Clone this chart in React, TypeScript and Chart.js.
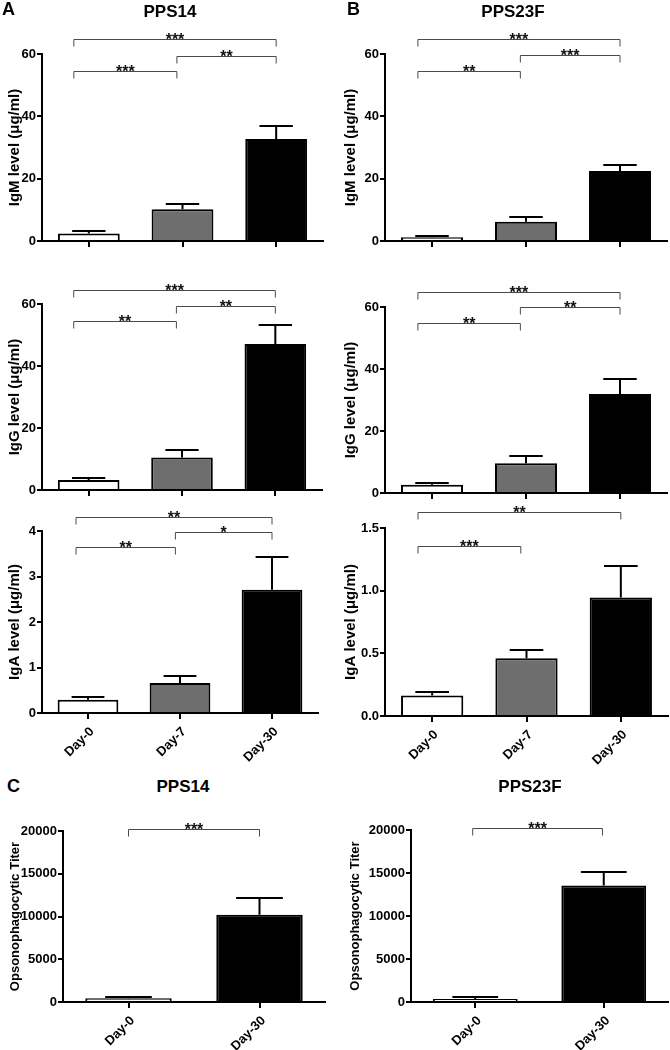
import React, { useEffect, useRef } from 'react';
import { Chart, registerables } from 'chart.js';

Chart.register(...registerables);

const FONT = "'Liberation Sans', Arial, Helvetica, sans-serif";

// categories
const DAYS3 = ['Day-0', 'Day-7', 'Day-30'];
const DAYS2 = ['Day-0', 'Day-30'];
const COLORS3 = ['#ffffff', '#6e6e6e', '#000000'];
const COLORS2 = ['#ffffff', '#000000'];

// A: PPS14 (mean, SEM)
const PPS14_IGM = [2.4, 10.2, 32.7];
const PPS14_IGM_SEM = [0.7, 1.8, 4.3];
const PPS14_IGG = [3.2, 10.5, 47.1];
const PPS14_IGG_SEM = [0.7, 2.4, 6.0];
const PPS14_IGA = [0.29, 0.66, 2.71];
const PPS14_IGA_SEM = [0.06, 0.16, 0.72];

// B: PPS23F
const PPS23F_IGM = [1.2, 6.2, 22.5];
const PPS23F_IGM_SEM = [0.5, 1.5, 2.0];
const PPS23F_IGG = [2.7, 9.6, 31.9];
const PPS23F_IGG_SEM = [0.5, 2.4, 4.8];
const PPS23F_IGA = [0.163, 0.46, 0.945];
const PPS23F_IGA_SEM = [0.027, 0.07, 0.255];

// C: opsonophagocytic titer
const OPA_PPS14 = [427, 10214];
const OPA_PPS14_SEM = [117, 1980];
const OPA_PPS23F = [350, 13553];
const OPA_PPS23F_SEM = [233, 1515];

// significance brackets: [from category, to category, y value, label]
const PPS14_IGM_SIG = [[-0.16, 2, 64.8, '***'], [0.94, 2, 59.4, '**'], [-0.16, 0.94, 54.6, '***']];
const PPS23F_IGM_SIG = [[-0.15, 2, 64.8, '***'], [0.94, 2, 59.7, '***'], [-0.15, 0.94, 54.5, '**']];
const PPS14_IGG_SIG = [[-0.16, 2, 64.5, '***'], [0.94, 2, 59.4, '**'], [-0.16, 0.94, 54.5, '**']];
const PPS23F_IGG_SIG = [[-0.15, 2, 64.8, '***'], [0.94, 2, 59.9, '**'], [-0.15, 0.94, 54.9, '**']];
const PPS14_IGA_SIG = [[-0.13, 2, 4.31, '**'], [0.95, 2, 3.985, '*'], [-0.13, 0.95, 3.64, '**']];
const PPS23F_IGA_SIG = [[-0.15, 2, 1.625, '**'], [-0.15, 0.94, 1.36, '***']];
const OPA_PPS14_SIG = [[0, 1, 20200, '***']];
const OPA_PPS23F_SIG = [[-0.02, 0.99, 20230, '***']];

// y axis ranges
const IG_MAX = 60;
const IG_STEP = 20;
const IGA14_MAX = 4;
const IGA14_STEP = 1;
const IGA23_MAX = 1.5;
const IGA23_STEP = 0.5;
const OPA_MAX = 20000;
const OPA_STEP = 5000;

type Sig = (number | string)[];

interface Spec {
  labels: string[];
  colors: string[];
  values: number[];
  sem: number[];
  sig: Sig[];
  max: number;
  step: number;
  decimals: number;
  yTitle: string;
  titleSize: number;
  showX: boolean;
  // layout
  left: number;
  yW: number;
  right: number;
  top: number;
  bottom: number;
  xH: number;
  padTop: number;
  titlePad: number;
}

const IGM_T = 'IgM level (\u03BCg/ml)';
const IGG_T = 'IgG level (\u03BCg/ml)';
const IGA_T = 'IgA level (\u03BCg/ml)';
const OPA_T = 'Opsonophagocytic Titer';

const SPECS: Spec[] = [
  { labels: DAYS3, colors: COLORS3, values: PPS14_IGM, sem: PPS14_IGM_SEM, sig: PPS14_IGM_SIG, max: IG_MAX, step: IG_STEP, decimals: 0, yTitle: IGM_T, titleSize: 15, showX: false,
    left: 0, yW: 42, right: 323, top: 54, bottom: 241, xH: 10, padTop: 36, titlePad: 6 },
  { labels: DAYS3, colors: COLORS3, values: PPS23F_IGM, sem: PPS23F_IGM_SEM, sig: PPS23F_IGM_SIG, max: IG_MAX, step: IG_STEP, decimals: 0, yTitle: IGM_T, titleSize: 15, showX: false,
    left: 335, yW: 50, right: 667, top: 54, bottom: 241, xH: 10, padTop: 36, titlePad: 7 },
  { labels: DAYS3, colors: COLORS3, values: PPS14_IGG, sem: PPS14_IGG_SEM, sig: PPS14_IGG_SIG, max: IG_MAX, step: IG_STEP, decimals: 0, yTitle: IGG_T, titleSize: 15, showX: false,
    left: 0, yW: 42, right: 322, top: 304, bottom: 490, xH: 10, padTop: 36, titlePad: 6 },
  { labels: DAYS3, colors: COLORS3, values: PPS23F_IGG, sem: PPS23F_IGG_SEM, sig: PPS23F_IGG_SIG, max: IG_MAX, step: IG_STEP, decimals: 0, yTitle: IGG_T, titleSize: 15, showX: false,
    left: 335, yW: 50, right: 667, top: 307, bottom: 493, xH: 10, padTop: 36, titlePad: 7 },
  { labels: DAYS3, colors: COLORS3, values: PPS14_IGA, sem: PPS14_IGA_SEM, sig: PPS14_IGA_SIG, max: IGA14_MAX, step: IGA14_STEP, decimals: 0, yTitle: IGA_T, titleSize: 15, showX: true,
    left: 0, yW: 42, right: 318, top: 531, bottom: 713, xH: 52, padTop: 30, titlePad: 6 },
  { labels: DAYS3, colors: COLORS3, values: PPS23F_IGA, sem: PPS23F_IGA_SEM, sig: PPS23F_IGA_SIG, max: IGA23_MAX, step: IGA23_STEP, decimals: 1, yTitle: IGA_T, titleSize: 15, showX: true,
    left: 335, yW: 50, right: 668, top: 528, bottom: 716, xH: 52, padTop: 30, titlePad: 7 },
  { labels: DAYS2, colors: COLORS2, values: OPA_PPS14, sem: OPA_PPS14_SEM, sig: OPA_PPS14_SIG, max: OPA_MAX, step: OPA_STEP, decimals: 0, yTitle: OPA_T, titleSize: 13, showX: true,
    left: 0, yW: 63, right: 325, top: 831, bottom: 1002, xH: 48, padTop: 22, titlePad: 8 },
  { labels: DAYS2, colors: COLORS2, values: OPA_PPS23F, sem: OPA_PPS23F_SEM, sig: OPA_PPS23F_SIG, max: OPA_MAX, step: OPA_STEP, decimals: 0, yTitle: OPA_T, titleSize: 13, showX: true,
    left: 335, yW: 76, right: 668, top: 830, bottom: 1002, xH: 48, padTop: 22, titlePad: 13 },
];

function BarPanel({ spec }: { spec: Spec }) {
  const ref = useRef<HTMLCanvasElement>(null);
  const canvasTop = spec.top - spec.padTop;
  const w = spec.right + 2 - spec.left;
  const h = spec.bottom + spec.xH - canvasTop;

  useEffect(() => {
    const s = spec;
    const overlay = {
      id: 'overlay',
      afterDatasetsDraw(chart: any) {
        const ctx = chart.ctx;
        const ys = chart.scales.y;
        const meta = chart.getDatasetMeta(0);
        ctx.save();
        ctx.strokeStyle = '#000';
        ctx.lineWidth = 2;
        meta.data.forEach((bar: any, i: number) => {
          const p = bar.getProps(['x', 'width'], true);
          const y0 = ys.getPixelForValue(s.values[i]);
          const y1 = Math.round(ys.getPixelForValue(s.values[i] + s.sem[i]));
          const half = p.width * 0.27;
          ctx.beginPath();
          ctx.moveTo(p.x, y0);
          ctx.lineTo(p.x, y1);
          ctx.moveTo(p.x - half, y1);
          ctx.lineTo(p.x + half, y1);
          ctx.stroke();
        });
        ctx.restore();
      },
      afterDraw(chart: any) {
        const ctx = chart.ctx;
        const xs = chart.scales.x;
        const ys = chart.scales.y;
        const a = xs.getPixelForValue(0);
        const b = xs.getPixelForValue(1);
        const px = (f: number) => a + f * (b - a);
        ctx.save();
        s.sig.forEach((g) => {
          const x1 = px(g[0] as number);
          const x2 = px(g[1] as number);
          const y = Math.round(ys.getPixelForValue(g[2] as number)) + 0.5;
          ctx.strokeStyle = '#4a4a4a';
          ctx.lineWidth = 1;
          ctx.beginPath();
          ctx.moveTo(x1, y + 7);
          ctx.lineTo(x1, y);
          ctx.lineTo(x2, y);
          ctx.lineTo(x2, y + 7);
          ctx.stroke();
          ctx.fillStyle = '#111';
          ctx.font = `bold 16px ${FONT}`;
          ctx.textAlign = 'center';
          ctx.textBaseline = 'alphabetic';
          ctx.fillText(String(g[3]), (x1 + x2) / 2, y + 5);
        });
        ctx.restore();
      },
    };

    const chart = new Chart(ref.current as HTMLCanvasElement, {
      type: 'bar',
      data: {
        labels: s.labels,
        datasets: [
          {
            data: s.values,
            backgroundColor: s.colors,
            borderColor: '#000',
            borderWidth: 2,
            borderSkipped: 'start',
            barPercentage: 0.66,
            categoryPercentage: 1,
          },
        ],
      },
      options: {
        animation: false,
        responsive: false,
        maintainAspectRatio: false,
        devicePixelRatio: 1,
        layout: { padding: { top: s.padTop, right: 2, left: 0, bottom: 0 } },
        plugins: { legend: { display: false }, title: { display: false }, tooltip: { enabled: false } },
        scales: {
          x: {
            type: 'category',
            offset: true,
            grid: { display: true, drawOnChartArea: false, drawTicks: true, tickLength: 6, color: '#000', lineWidth: 2, offset: false },
            border: { display: true, color: '#000', width: 2 },
            ticks: {
              display: s.showX,
              minRotation: 45,
              maxRotation: 45,
              autoSkip: false,
              padding: 5,
              labelOffset: 4,
              color: '#000',
              font: { family: FONT, size: 13, weight: 'bold' },
            },
            afterFit: (sc: any) => {
              sc.height = s.xH;
            },
          },
          y: {
            min: 0,
            max: s.max,
            grid: { display: true, drawOnChartArea: false, drawTicks: true, tickLength: 5, color: '#000', lineWidth: 2 },
            border: { display: true, color: '#000', width: 2 },
            ticks: {
              stepSize: s.step,
              padding: 1,
              color: '#000',
              font: { family: FONT, size: 13, weight: 'bold' },
              callback: (v: any) => Number(v).toFixed(s.decimals),
            },
            title: {
              display: true,
              text: s.yTitle,
              color: '#000',
              font: { family: FONT, size: s.titleSize, weight: 'bold', lineHeight: 1.2 },
              padding: { top: s.titlePad, bottom: 0 },
            },
            afterFit: (sc: any) => {
              sc.width = s.yW;
            },
          },
        },
      } as any,
      plugins: [overlay],
    });
    return () => chart.destroy();
  }, []);

  return (
    <canvas
      ref={ref}
      width={w}
      height={h}
      style={{ position: 'absolute', left: spec.left, top: canvasTop, width: w, height: h }}
    />
  );
}

const TEXTS = [
  { t: 'A', x: 8.5, y: 9, s: 18 },
  { t: 'PPS14', x: 170, y: 10.5, s: 17 },
  { t: 'B', x: 353.5, y: 9, s: 18 },
  { t: 'PPS23F', x: 513, y: 10.5, s: 17 },
  { t: 'C', x: 13.5, y: 786, s: 18 },
  { t: 'PPS14', x: 183, y: 786, s: 17 },
  { t: 'PPS23F', x: 530, y: 786, s: 17 },
];

export default function App() {
  return (
    <div
      style={{
        position: 'absolute',
        left: 0,
        top: 0,
        width: 670,
        height: 1050,
        background: '#fff',
        overflow: 'hidden',
        fontFamily: FONT,
      }}
    >
      {SPECS.map((sp, i) => (
        <BarPanel key={i} spec={sp} />
      ))}
      {TEXTS.map((tx, i) => (
        <div
          key={'t' + i}
          style={{
            position: 'absolute',
            left: tx.x,
            top: tx.y,
            transform: 'translate(-50%, -50%)',
            fontSize: tx.s,
            fontWeight: 'bold',
            lineHeight: 1,
            whiteSpace: 'nowrap',
            color: '#000',
          }}
        >
          {tx.t}
        </div>
      ))}
    </div>
  );
}
